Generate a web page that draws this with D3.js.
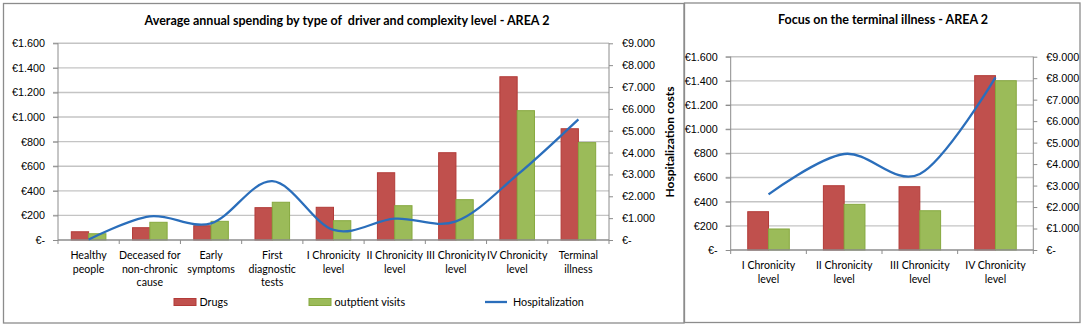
<!DOCTYPE html>
<html lang="en">
<head>
<meta charset="UTF-8">
<script src="https://d3js.org/d3.v7.min.js"></script>
<style>
    body{ margin:0; background:#fff; }
    svg{ display:block; font-family: Lato, "Open Sans", sans-serif; }
    .tick text{ font-size:10.8px; fill:#000; }
    .cat{ font-size:10.6px; fill:#000; }
    .title{ font-size:12.5px; font-weight:bold; fill:#000; white-space:pre; }
    .leg{ font-size:10.8px; fill:#000; }
</style>
<title>Average annual spending - AREA 2</title>
</head>
<body>
<svg width="1084" height="327"></svg>
<script>

// data - chart 1
const categories = ["Healthy\npeople", "Deceased for\nnon-chronic\ncause", "Early\nsymptoms", "First\ndiagnostic\ntests",
    "I Chronicity\nlevel", "II Chronicity\nlevel", "III Chronicity\nlevel", "IV Chronicity\nlevel", "Terminal\nillness"];
const drugs = [67, 100, 116, 263, 266, 547, 710, 1328, 905];
const visits = [51, 144, 152, 307, 157, 279, 328, 1052, 792];
const hosp = [20, 1080, 760, 2690, 460, 975, 850, 2975, 5520];

// data - chart 2 (focus)
const focusCategories = ["I Chronicity\nlevel", "II Chronicity\nlevel", "III Chronicity\nlevel", "IV Chronicity\nlevel"];
const focusDrugs = [317, 532, 524, 1443];
const focusVisits = [174, 378, 325, 1401];
const focusHosp = [2590, 4470, 3540, 8040];

const leftTicks = [0, 200, 400, 600, 800, 1000, 1200, 1400, 1600];
const rightTicks = [0, 1000, 2000, 3000, 4000, 5000, 6000, 7000, 8000, 9000];
const seriesNames = ["Drugs", "outptient visits", "Hospitalization"];

const red = "#c0504d", redEdge = "#b23b38";
const green = "#9bbb59", greenEdge = "#86a83f";
const blue = "#2a6ebb";

const euro = v => v === 0 ? "€-" : "€" + d3.format(",")(v).replace(/,/g, ".");

const svg = d3.select("svg");

// panel borders
svg.append("rect").attr("x", 3.5).attr("y", 3.5).attr("width", 680.5).attr("height", 319.5)
    .attr("fill", "none").attr("stroke", "#8c8c8c").attr("stroke-width", 1.3);
svg.append("rect").attr("x", 684.5).attr("y", 3).attr("width", 395.5).attr("height", 319.5)
    .attr("fill", "none").attr("stroke", "#8c8c8c").attr("stroke-width", 1.3);

function drawChart(cfg) {
    const g = svg.append("g");

    const x = d3.scaleBand().domain(cfg.cats).range([cfg.x0, cfg.x1]).padding(0);
    const inner = d3.scaleBand().domain(["d", "v"]).range([0, x.bandwidth()])
        .paddingInner(0).paddingOuter(cfg.outer);
    const y = d3.scaleLinear().domain([0, 1600]).range([cfg.yB, cfg.yT]);
    const y2 = d3.scaleLinear().domain([0, 9000]).range([cfg.yB, cfg.yT]);

    // gridlines
    g.selectAll(".grid").data(leftTicks.slice(1)).enter().append("line")
        .attr("x1", cfg.x0 - 5).attr("x2", cfg.x1)
        .attr("y1", d => y(d)).attr("y2", d => y(d))
        .attr("stroke", "#c4c4c4").attr("stroke-width", 1.4);

    // bars
    const rows = cfg.cats.map((c, i) => ({c, d: cfg.drugs[i], v: cfg.visits[i]}));
    const grp = g.selectAll(".cg").data(rows).enter().append("g")
        .attr("transform", d => `translate(${x(d.c)},0)`);
    grp.append("rect")
        .attr("x", inner("d")).attr("width", inner.bandwidth())
        .attr("y", d => y(d.d)).attr("height", d => y(0) - y(d.d))
        .attr("fill", red).attr("stroke", redEdge).attr("stroke-width", 1);
    grp.append("rect")
        .attr("x", inner("v")).attr("width", inner.bandwidth())
        .attr("y", d => y(d.v)).attr("height", d => y(0) - y(d.v))
        .attr("fill", green).attr("stroke", greenEdge).attr("stroke-width", 1);

    // left axis
    const ax = g.append("g").attr("transform", `translate(${cfg.x0},0)`)
        .call(d3.axisLeft(y).tickValues(leftTicks).tickFormat(euro).tickSize(5).tickPadding(8));
    ax.selectAll("path,line").attr("stroke", "#8c8c8c");
    ax.select(".domain").attr("d", `M0,${cfg.yB}V${cfg.yT}`);

    // right axis
    const ax2 = g.append("g").attr("transform", `translate(${cfg.x1},0)`)
        .call(d3.axisRight(y2).tickValues(rightTicks).tickFormat(euro).tickSize(4).tickPadding(9));
    ax2.selectAll("path,line").attr("stroke", "#8c8c8c");
    ax2.select(".domain").attr("d", `M0,${cfg.yB}V${cfg.yT}`);
    ax2.selectAll("text").attr("text-anchor", "start");

    // category axis
    g.append("line").attr("x1", cfg.x0).attr("x2", cfg.x1).attr("y1", cfg.yB).attr("y2", cfg.yB)
        .attr("stroke", "#8c8c8c").attr("stroke-width", 1.3);
    const edges = cfg.cats.map(c => x(c)).concat([cfg.x1]);
    g.selectAll(".ctick").data(edges).enter().append("line")
        .attr("x1", d => d).attr("x2", d => d).attr("y1", cfg.yB).attr("y2", cfg.yB + 4)
        .attr("stroke", "#8c8c8c");
    g.selectAll(".cat").data(cfg.cats).enter().append("text")
        .attr("class", "cat").attr("text-anchor", "middle")
        .attr("x", d => x(d) + x.bandwidth() / 2)
        .attr("y", cfg.yB + cfg.labelOff)
        .each(function(d) {
            d.split("\n").forEach((t, i) => {
                d3.select(this).append("tspan")
                    .attr("x", x(d) + x.bandwidth() / 2)
                    .attr("dy", i === 0 ? 0 : 13.7).text(t);
            });
        });

    // hospitalization line
    const line = d3.line()
        .x((d, i) => x(cfg.cats[i]) + x.bandwidth() / 2)
        .y(d => y2(d))
        .curve(d3.curveCatmullRom.alpha(0));
    g.append("path").datum(cfg.hosp).attr("d", line)
        .attr("fill", "none").attr("stroke", blue).attr("stroke-width", 2.3);

    // title
    g.append("text").attr("class", "title").attr("text-anchor", "middle")
        .attr("x", cfg.titleX).attr("y", cfg.titleY).text(cfg.title);
}

drawChart({
    cats: categories, drugs: drugs, visits: visits, hosp: hosp,
    x0: 58, x1: 609, yT: 43.3, yB: 240, outer: 0.77, labelOff: 19,
    title: "Average annual spending by type of  driver and complexity level - AREA 2",
    titleX: 347, titleY: 25
});

drawChart({
    cats: focusCategories, drugs: focusDrugs, visits: focusVisits, hosp: focusHosp,
    x0: 730.7, x1: 1033.3, yT: 56.7, yB: 250, outer: 0.82, labelOff: 19,
    title: "Focus on the terminal illness - AREA 2",
    titleX: 883, titleY: 24
});

// secondary axis title (left chart)
svg.append("text").attr("class", "title")
    .attr("transform", "translate(674,142) rotate(-90)")
    .attr("text-anchor", "middle").style("font-size", "12px")
    .text("Hospitalization costs");

// legend
const legX = [174, 309, 485];
const leg = svg.append("g");
seriesNames.forEach((name, i) => {
    if (i < 2) {
        leg.append("rect").attr("x", legX[i]).attr("y", 298.5).attr("width", 22).attr("height", 7)
            .attr("fill", i === 0 ? red : green).attr("stroke", i === 0 ? redEdge : greenEdge);
    } else {
        leg.append("line").attr("x1", legX[i]).attr("x2", legX[i] + 22).attr("y1", 302).attr("y2", 302)
            .attr("stroke", blue).attr("stroke-width", 2.3);
    }
    leg.append("text").attr("class", "leg").attr("x", legX[i] + (i < 2 ? 25.5 : 28)).attr("y", 306)
        .text(name);
});

</script>
</body>
</html>
